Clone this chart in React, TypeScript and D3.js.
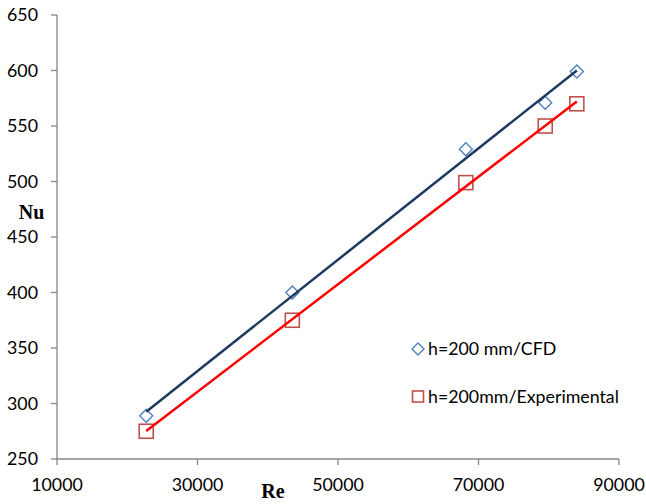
import React from "react";
import * as d3 from "d3";

const reValues = [22700, 43500, 68200, 79500, 84000];
const nuCFD = [289, 400, 529, 571, 599];
const nuExp = [275, 375, 499, 550, 570];
const xTicks = [10000, 30000, 50000, 70000, 90000];
const yTicks = [250, 300, 350, 400, 450, 500, 550, 600, 650];
const seriesNames = ["h=200 mm/CFD", "h=200mm/Experimental"];

const W = 646;
const H = 504;
const left = 57;
const right = 619;
const top = 15;
const bottom = 459;

function fit(xs: number[], ys: number[]) {
  const mx = d3.mean(xs)!;
  const my = d3.mean(ys)!;
  let sxy = 0, sxx = 0;
  xs.forEach((x, i) => {
    sxy += (x - mx) * (ys[i] - my);
    sxx += (x - mx) * (x - mx);
  });
  const b = sxy / sxx;
  const a = my - b * mx;
  return (x: number) => a + b * x;
}

export default function App() {
  const x = d3.scaleLinear().domain([10000, 90000]).range([left, right]);
  const y = d3.scaleLinear().domain([250, 650]).range([bottom, top]);
  const fCFD = fit(reValues, nuCFD);
  const fExp = fit(reValues, nuExp);
  const x0 = d3.min(reValues)!;
  const x1 = d3.max(reValues)!;
  const line = d3.line<[number, number]>().x((d) => x(d[0])).y((d) => y(d[1]));
  const font = "Lato, 'Open Sans', sans-serif";
  const diamond = (cx: number, cy: number, r: number) =>
    `M${cx},${cy - r}L${cx + r},${cy}L${cx},${cy + r}L${cx - r},${cy}Z`;
  const axisColor = "#868686";
  const blue = "#4F81BD";
  const sqColor = "#C0504D";

  return (
    <svg width={W} height={H} style={{ position: "absolute", left: 0, top: 0 }}>
      <rect width={W} height={H} fill="#fff" />
      {/* axes */}
      <line x1={left} x2={left} y1={top} y2={bottom} stroke={axisColor} strokeWidth={1.3} />
      <line x1={left} x2={right} y1={bottom} y2={bottom} stroke={axisColor} strokeWidth={1.3} />
      {yTicks.map((t) => (
        <g key={"y" + t}>
          <line x1={left - 6} x2={left} y1={y(t)} y2={y(t)} stroke={axisColor} strokeWidth={1.3} />
          <text x={38} y={y(t)} dy="0.36em" textAnchor="end" fontFamily={font} fontSize={17.8} fill="#000">
            {t}
          </text>
        </g>
      ))}
      {xTicks.map((t) => (
        <g key={"x" + t}>
          <line x1={x(t)} x2={x(t)} y1={bottom} y2={bottom + 6} stroke={axisColor} strokeWidth={1.3} />
          <text x={x(t)} y={490.5} textAnchor="middle" fontFamily={font} fontSize={17.8} fill="#000">
            {t}
          </text>
        </g>
      ))}
      <text x={31.5} y={218.5} textAnchor="middle" fontFamily="'Liberation Serif', 'Times New Roman', serif" fontWeight="bold" fontSize={20}>
        Nu
      </text>
      <text x={273} y={497.5} textAnchor="middle" fontFamily="'Liberation Serif', 'Times New Roman', serif" fontWeight="bold" fontSize={20}>
        Re
      </text>
      {/* markers */}
      {reValues.map((r, i) => (
        <path key={"d" + i} d={diamond(x(r), y(nuCFD[i]), 6.5)} fill="none" stroke={blue} strokeWidth={1.4} />
      ))}
      {reValues.map((r, i) => (
        <rect key={"s" + i} x={x(r) - 7} y={y(nuExp[i]) - 7} width={14} height={14} fill="none" stroke={sqColor} strokeWidth={1.6} />
      ))}
      {/* trendlines */}
      <path d={line([[x0, fCFD(x0)], [x1, fCFD(x1)]])!} stroke="#1F3A60" strokeWidth={2.5} fill="none" />
      <path d={line([[x0, fExp(x0)], [x1, fExp(x1)]])!} stroke="#FF0000" strokeWidth={2.5} fill="none" />
      {/* legend */}
      <path d={diamond(418, 349, 6)} fill="none" stroke={blue} strokeWidth={1.4} />
      <text x={428} y={355} fontFamily={font} fontSize={17.8} fill="#000">{seriesNames[0]}</text>
      <rect x={412.5} y={391} width={11} height={11} fill="none" stroke={sqColor} strokeWidth={1.6} />
      <text x={428} y={403} fontFamily={font} fontSize={17.8} fill="#000">{seriesNames[1]}</text>
    </svg>
  );
}
